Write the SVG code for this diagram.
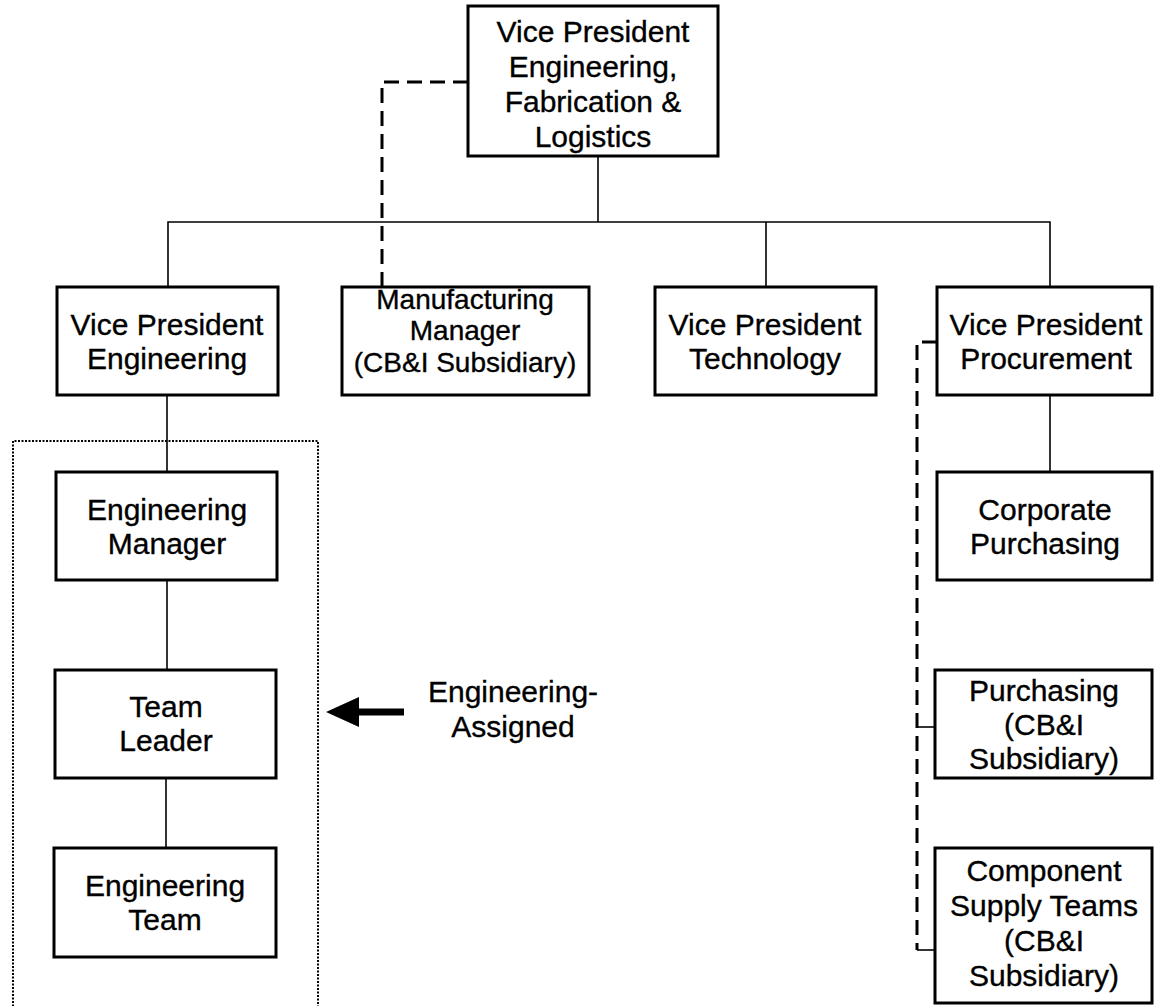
<svg xmlns="http://www.w3.org/2000/svg" width="1154" height="1006" viewBox="0 0 1154 1006">
  <style>
    .box { fill: #fff; stroke: #000; stroke-width: 3; }
    .lbl { font-family: "Liberation Sans", Arial, sans-serif; font-size: 30px; fill: #000; stroke: #000; stroke-width: 0.35; text-anchor: middle; }
    .tight { font-size: 28px; }
    .line { fill: none; stroke: #000; stroke-width: 1.6; }
    .dash { fill: none; stroke: #000; stroke-width: 3; stroke-dasharray: 15 8; }
    .dot { fill: none; stroke: #000; stroke-width: 2; stroke-dasharray: 2 1.5; }
  </style>
  <rect width="1154" height="1006" fill="#fff"/>

  <!-- engineering-assigned grouping frame (open at bottom) -->
  <path class="dot" d="M13,1010 V441 H318 V1010"/>

  <g id="connectors">
    <!-- solid reporting lines -->
    <path class="line" d="M598,156 V222"/>
    <path class="line" d="M168,287 V222 H1050 V287"/>
    <path class="line" d="M766,222 V287"/>
    <path class="line" d="M167,395 V472"/>
    <path class="line" d="M167,580 V670"/>
    <path class="line" d="M166,778 V848"/>
    <path class="line" d="M1050,395 V472"/>
    <!-- dotted-line relationships -->
    <path class="dash" d="M468,82 H382 V287"/>
    <path class="dash" d="M937,342 H917 V950"/>
    <path class="line" d="M917,727 H935"/>
    <path class="line" d="M917,950 H935"/>
    <!-- assignment arrow -->
    <path d="M404,708.5 H359 V697 L326,712 L359,727 V715.5 H404 Z" fill="#000"/>
  </g>

  <g id="vp-efl">
    <rect class="box" x="468" y="6" width="250" height="150"/>
    <text class="lbl" x="593" y="42">Vice President</text>
    <text class="lbl" x="593" y="77">Engineering,</text>
    <text class="lbl" x="593" y="112">Fabrication &amp;</text>
    <text class="lbl" x="593" y="147">Logistics</text>
  </g>

  <g id="vp-engineering">
    <rect class="box" x="57" y="287" width="221" height="108"/>
    <text class="lbl" x="167" y="335">Vice President</text>
    <text class="lbl" x="167" y="369">Engineering</text>
  </g>

  <g id="manufacturing-manager">
    <rect class="box" x="342" y="287" width="247" height="108"/>
    <text class="lbl tight" x="465" y="308.5">Manufacturing</text>
    <text class="lbl tight" x="465" y="340">Manager</text>
    <text class="lbl tight" x="465" y="371.5">(CB&amp;I Subsidiary)</text>
  </g>

  <g id="vp-technology">
    <rect class="box" x="655" y="287" width="221" height="108"/>
    <text class="lbl" x="765" y="335">Vice President</text>
    <text class="lbl" x="765" y="369">Technology</text>
  </g>

  <g id="vp-procurement">
    <rect class="box" x="937" y="287" width="215" height="108"/>
    <text class="lbl" x="1046" y="335">Vice President</text>
    <text class="lbl" x="1046" y="369">Procurement</text>
  </g>

  <g id="engineering-manager">
    <rect class="box" x="56" y="472" width="221" height="108"/>
    <text class="lbl" x="167" y="520">Engineering</text>
    <text class="lbl" x="167" y="554">Manager</text>
  </g>

  <g id="team-leader">
    <rect class="box" x="55" y="670" width="221" height="108"/>
    <text class="lbl" x="166" y="717">Team</text>
    <text class="lbl" x="166" y="751">Leader</text>
  </g>

  <g id="engineering-team">
    <rect class="box" x="54" y="848" width="222" height="109"/>
    <text class="lbl" x="165" y="896">Engineering</text>
    <text class="lbl" x="165" y="930">Team</text>
  </g>

  <g id="corporate-purchasing">
    <rect class="box" x="937" y="472" width="215" height="108"/>
    <text class="lbl" x="1045" y="520">Corporate</text>
    <text class="lbl" x="1045" y="554">Purchasing</text>
  </g>

  <g id="purchasing-sub">
    <rect class="box" x="935" y="670" width="217" height="108"/>
    <text class="lbl" x="1044" y="701">Purchasing</text>
    <text class="lbl" x="1044" y="735">(CB&amp;I</text>
    <text class="lbl" x="1044" y="769">Subsidiary)</text>
  </g>

  <g id="component-supply">
    <rect class="box" x="935" y="848" width="217" height="155"/>
    <text class="lbl" x="1044" y="881">Component</text>
    <text class="lbl" x="1044" y="916">Supply Teams</text>
    <text class="lbl" x="1044" y="951">(CB&amp;I</text>
    <text class="lbl" x="1044" y="986">Subsidiary)</text>
  </g>

  <g id="assigned-label">
    <text class="lbl" x="513" y="702">Engineering-</text>
    <text class="lbl" x="513" y="737">Assigned</text>
  </g>
</svg>
